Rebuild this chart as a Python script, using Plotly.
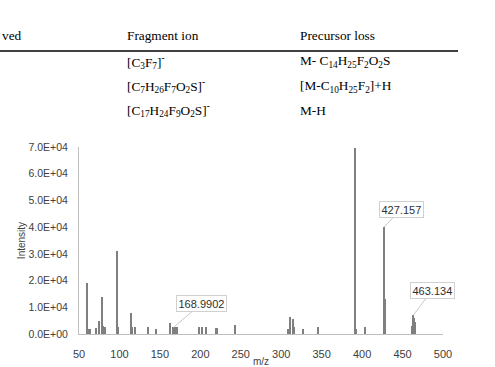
import plotly.graph_objects as go

# Mass spectrum peaks (m/z, intensity)
mz = [60, 62, 64, 71, 75, 78, 80, 82.5, 97, 99, 114, 116, 119, 135, 145,
      163, 167, 168.9902, 171, 198, 202, 207, 219, 221, 243,
      309, 310.5, 314.5, 316, 327, 346,
      391, 391.6, 392.6, 404, 427.157, 428, 428.6,
      461.8, 463.134, 464.2, 465.2]
intensity = [19000, 2000, 2000, 2200, 5000, 14000, 3000, 2500, 31000, 2500, 7800, 2500, 2500, 2500, 2000,
             4000, 2500, 2500, 2500, 2500, 2800, 2700, 2200, 2300, 3300,
             2000, 6200, 5600, 2500, 2000, 2500,
             69700, 12700, 2000, 2500, 40000, 13000, 6500,
             3000, 7000, 6000, 4500]

labelled_mz = [168.9902, 427.157, 463.134]
labelled_text = ["168.9902", "427.157", "463.134"]

# Table excerpt above the chart
header = ["ved", "Fragment ion", "Precursor loss"]
fragment_ions = ["[C<sub>3</sub>F<sub>7</sub>]<sup>-</sup>",
                 "[C<sub>7</sub>H<sub>26</sub>F<sub>7</sub>O<sub>2</sub>S]<sup>-</sup>",
                 "[C<sub>17</sub>H<sub>24</sub>F<sub>9</sub>O<sub>2</sub>S]<sup>-</sup>"]
precursor_loss = ["M- C<sub>14</sub>H<sub>25</sub>F<sub>2</sub>O<sub>2</sub>S",
                  "[M-C<sub>10</sub>H<sub>25</sub>F<sub>2</sub>]+H",
                  "M-H"]

W, H = 495, 367
L, R, T, B = 79, 443, 147, 334


def px(x):
    return (x - L) / (R - L)


def py(y):
    return (B - y) / (B - T)


fig = go.Figure()
fig.add_trace(go.Bar(x=mz, y=intensity, width=1.6,
                     marker=dict(color="#7f7f7f", line=dict(width=0)),
                     showlegend=False))

serif = dict(family="Liberation Serif", size=13.3, color="black")
annotations = []
# header row
annotations.append(dict(x=px(0), y=py(35), xref="paper", yref="paper", text=header[0],
                        showarrow=False, xanchor="left", yanchor="middle", font=serif))
annotations.append(dict(x=px(125), y=py(35), xref="paper", yref="paper", text=header[1],
                        showarrow=False, xanchor="left", yanchor="middle", font=serif))
annotations.append(dict(x=px(298), y=py(35), xref="paper", yref="paper", text=header[2],
                        showarrow=False, xanchor="left", yanchor="middle", font=serif))
row_y = [62, 86, 110]
for fi, pl, yy in zip(fragment_ions, precursor_loss, row_y):
    annotations.append(dict(x=px(125), y=py(yy), xref="paper", yref="paper", text=fi,
                            showarrow=False, xanchor="left", yanchor="middle", font=serif))
    annotations.append(dict(x=px(298), y=py(yy), xref="paper", yref="paper", text=pl,
                            showarrow=False, xanchor="left", yanchor="middle", font=serif))

# peak labels
offsets = [(28, -24, 167, 2500), (17, -18, 427.157, 40000), (19, -25, 463.134, 7000)]
for txt, (ax, ay, xx, yy) in zip(labelled_text, offsets):
    annotations.append(dict(x=xx, y=yy, xref="x", yref="y", text=txt, showarrow=True,
                            arrowhead=0, arrowwidth=1, arrowcolor="#c8c8c8", ax=ax, ay=ay,
                            bgcolor="white", bordercolor="#d0d0d0", borderwidth=1, borderpad=1.5,
                            font=dict(family="Liberation Sans", size=11, color="#303030")))

fig.update_layout(
    width=W, height=H,
    margin=dict(l=L, r=W - R, t=T, b=H - B, pad=0),
    paper_bgcolor="white", plot_bgcolor="white",
    bargap=0, barmode="overlay",
    annotations=annotations,
    shapes=[dict(type="line", xref="paper", yref="paper", x0=px(0), x1=px(458),
                 y0=py(51), y1=py(51), line=dict(color="black", width=1.3))],
    xaxis=dict(range=[50, 500], tickvals=[50, 100, 150, 200, 250, 300, 350, 400, 450, 500],
               showgrid=False, zeroline=False, showline=True, linecolor="#bfbfbf", linewidth=1,
               ticks="outside", ticklen=10, tickcolor="rgba(0,0,0,0)",
               tickfont=dict(family="Liberation Sans", size=11, color="#404040"),
               title=dict(text="m/z", standoff=4,
                          font=dict(family="Liberation Sans", size=10, color="#404040")),
               automargin=False),
    yaxis=dict(range=[0, 70000], tickvals=[0, 10000, 20000, 30000, 40000, 50000, 60000, 70000],
               ticktext=["0.0E+00", "1.0E+04", "2.0E+04", "3.0E+04", "4.0E+04", "5.0E+04", "6.0E+04", "7.0E+04"],
               showgrid=False, zeroline=False, showline=True, linecolor="#bfbfbf", linewidth=1,
               ticks="outside", ticklen=8, tickcolor="rgba(0,0,0,0)",
               tickfont=dict(family="Liberation Sans", size=10.5, color="#404040"),
               title=dict(text="Intensity", standoff=0,
                          font=dict(family="Liberation Sans", size=10, color="#404040")),
               automargin=False),
)

fig.write_html("out.html", config={"displayModeBar": False},
               post_script="document.body.style.margin='0';")
